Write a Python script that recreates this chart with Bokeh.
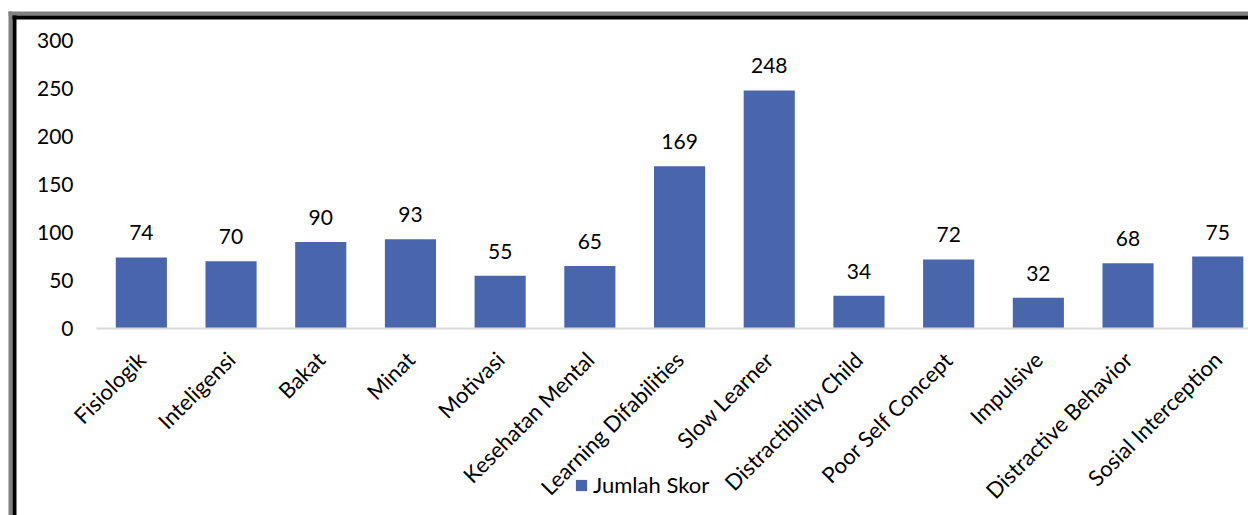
from bokeh.plotting import figure
from bokeh.models import ColumnDataSource, Range1d, FixedTicker, Legend, LegendItem, LabelSet, BoxAnnotation
from bokeh.core.properties import value
from bokeh.embed import file_html
from bokeh.resources import INLINE
import math

categories = ["Fisiologik", "Inteligensi", "Bakat", "Minat", "Motivasi", "Kesehatan Mental",
              "Learning Difabilities", "Slow Learner", "Distractibility Child", "Poor Self Concept",
              "Impulsive", "Distractive Behavior", "Sosial Interception"]
scores = [74, 70, 90, 93, 55, 65, 169, 248, 34, 72, 32, 68, 75]
series_name = "Jumlah Skor"
y_ticks = [0, 50, 100, 150, 200, 250, 300]

FONT = "Lato"
BLUE = "#4966AD"
FS = "21px"

W, H = 1248, 515
# plot area (in pixels) inside the canvas
PL, PT, PB = 96, 40, 328
UNIT = 89.7              # px per category
PPV = (PB - PT) / 300.0  # px per value unit

x0 = -0.5 - PL / UNIT
x1 = -0.5 + (W - PL) / UNIT
y1 = 300 + PT / PPV
y0 = 300 - (H - PT) / PPV

xs = list(range(len(categories)))
src = ColumnDataSource(dict(x=xs, top=scores, label=[str(v) for v in scores]))

p = figure(width=W, height=H, output_backend="svg", toolbar_location=None,
           x_range=Range1d(x0, x1), y_range=Range1d(y0, y1),
           min_border=0)
p.outline_line_color = None
p.grid.visible = False

r = p.vbar(x="x", top="top", width=0.57, source=src, fill_color=BLUE, line_color=None)

labels = LabelSet(x="x", y="top", text="label", source=src, text_align="center",
                  text_baseline="alphabetic", y_offset=17, text_font=value(FONT),
                  text_font_size=FS, text_color="black")
p.add_layout(labels)

xa = p.xaxis[0]
xa.fixed_location = 0
xa.bounds = (-0.5, x1)
xa.ticker = FixedTicker(ticks=xs)
xa.major_label_overrides = {i: c for i, c in enumerate(categories)}
xa.major_label_orientation = math.pi / 4
xa.major_tick_line_color = None
xa.minor_tick_line_color = None
xa.axis_line_color = "#D9D9D9"
xa.axis_line_width = 2
xa.major_label_text_font = FONT
xa.major_label_text_font_size = "22px"
xa.major_label_text_color = "black"
xa.major_label_standoff = 21

ya = p.yaxis[0]
ya.fixed_location = -0.5
ya.bounds = (0, 300)
ya.ticker = FixedTicker(ticks=y_ticks)
ya.axis_line_color = None
ya.major_tick_line_color = None
ya.minor_tick_line_color = None
ya.major_label_text_font = FONT
ya.major_label_text_font_size = FS
ya.major_label_text_color = "black"
ya.major_label_standoff = 17

legend = Legend(items=[LegendItem(label=series_name, renderers=[r])], location=(574, 17),
                label_text_font=FONT, label_text_font_size="22px", label_text_color="black",
                glyph_width=14, glyph_height=14, padding=0, margin=0, label_standoff=5,
                border_line_color=None, background_fill_alpha=0)
p.add_layout(legend, "center")

# chart-area border bands (screen units measured from the canvas' bottom-left corner)
def band(l, rr, b, t, color):
    p.add_layout(BoxAnnotation(left=l, right=rr, bottom=b, top=t,
                               left_units="screen", right_units="screen",
                               bottom_units="screen", top_units="screen",
                               fill_color=color, fill_alpha=1, line_color=None, level="overlay"))

band(8, 12, 0, H - 11, "#808080")
band(8, W, H - 15, H - 11, "#808080")
band(12, 16, 0, H - 15, "#000000")
band(12, W, H - 19, H - 15, "#000000")

open("out.html", "w").write(file_html(p, INLINE))
